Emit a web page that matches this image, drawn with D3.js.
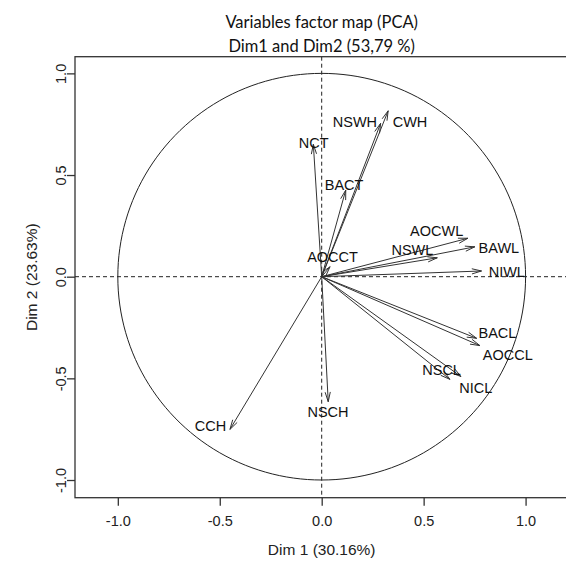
<!DOCTYPE html>
<html>
<head>
<meta charset="utf-8">
<script src="https://cdn.jsdelivr.net/npm/d3@7"></script>
<style>
  html, body { margin: 0; padding: 0; background: #fff; }
  svg { display: block; }
</style>
</head>
<body>
<svg id="chart" width="566" height="563"></svg>
<script>
// ---- data ----
const variables = ["NCT","BACT","AOCCT","NSWH","CWH","AOCWL","BAWL","NSWL","NIWL","BACL","AOCCL","NSCL","NICL","NSCH","CCH"];
const dim1 = [-0.041, 0.118, 0.041, 0.289, 0.326, 0.717, 0.751, 0.567, 0.784, 0.760, 0.776, 0.629, 0.683, 0.032, -0.450];
const dim2 = [0.651, 0.426, 0.049, 0.754, 0.816, 0.189, 0.147, 0.093, 0.028, -0.303, -0.339, -0.505, -0.491, -0.615, -0.751];
// label anchor coordinates (data units)
const labelX = [-0.039, 0.110, 0.053, 0.163, 0.433, 0.564, 0.869, 0.445, 0.908, 0.862, 0.913, 0.588, 0.756, 0.031, -0.545];
const labelY = [0.656, 0.451, 0.098, 0.762, 0.762, 0.225, 0.140, 0.131, 0.023, -0.278, -0.385, -0.460, -0.549, -0.664, -0.734];
const xTicks = [-1.0, -0.5, 0.0, 0.5, 1.0];
const yTicks = [-1.0, -0.5, 0.0, 0.5, 1.0];
const titleLines = ["Variables factor map (PCA)", "Dim1 and Dim2 (53,79 %)"];
const xTitle = "Dim 1 (30.16%)";
const yTitle = "Dim 2 (23.63%)";

// ---- layout ----
const svg = d3.select("#chart");
const pLeft = 75, pRight = 568.4, pTop = 56.7, pBottom = 497.7;
const x = d3.scaleLinear().domain([-1.21, 1.21]).range([pLeft, pRight]);
const y = d3.scaleLinear().domain([-1.087, 1.082]).range([pBottom, pTop]);
const labelFont = "'Liberation Sans', Arial, sans-serif";

// title
svg.append("g").selectAll("text").data(titleLines).join("text")
  .attr("x", x(0)).attr("y", (d, i) => 22 + i * 24)
  .attr("text-anchor", "middle").attr("dominant-baseline", "central")
  .attr("font-family", "Lato, 'Open Sans', sans-serif").attr("font-size", 16.5)
  .attr("fill", "#111").text(d => d);

// box
svg.append("rect").attr("x", pLeft).attr("y", pTop)
  .attr("width", pRight - pLeft).attr("height", pBottom - pTop)
  .attr("fill", "none").attr("stroke", "#333").attr("stroke-width", 1.3);

// axes
const fmt = d => d3.format(".1f")(d).replace("\u2212", "-");
const xAxis = svg.append("g").attr("transform", `translate(0,${pBottom})`)
  .call(d3.axisBottom(x).tickValues(xTicks).tickSize(8).tickSizeOuter(0).tickPadding(10).tickFormat(fmt));
const yAxis = svg.append("g").attr("transform", `translate(${pLeft},0)`)
  .call(d3.axisLeft(y).tickValues(yTicks).tickSize(8).tickSizeOuter(0).tickFormat(fmt));
[xAxis, yAxis].forEach(g => {
  g.select(".domain").remove();
  g.selectAll("line").attr("stroke", "#333").attr("stroke-width", 1.3);
  g.selectAll("text").attr("font-family", labelFont).attr("font-size", 14.5).attr("fill", "#222");
});
yAxis.selectAll("text")
  .attr("x", 0).attr("dy", 0)
  .attr("text-anchor", "middle")
  .attr("transform", "translate(-14,0) rotate(-90)")
  .attr("dominant-baseline", "central");

// axis titles
svg.append("text").attr("x", x(0)).attr("y", 549)
  .attr("text-anchor", "middle").attr("dominant-baseline", "central")
  .attr("font-family", labelFont).attr("font-size", 15.5).attr("fill", "#222").text(xTitle);
svg.append("text")
  .attr("transform", `translate(31,${(pTop + pBottom) / 2}) rotate(-90)`)
  .attr("text-anchor", "middle").attr("dominant-baseline", "central")
  .attr("font-family", labelFont).attr("font-size", 15.5).attr("fill", "#222").text(yTitle);

// clip
svg.append("clipPath").attr("id", "plotclip").append("rect")
  .attr("x", pLeft).attr("y", pTop).attr("width", pRight - pLeft).attr("height", pBottom - pTop);
const plot = svg.append("g").attr("clip-path", "url(#plotclip)");

// dashed reference lines
plot.append("line").attr("x1", x(0)).attr("x2", x(0)).attr("y1", pTop).attr("y2", pBottom)
  .attr("stroke", "#222").attr("stroke-width", 1).attr("stroke-dasharray", "4,3");
plot.append("line").attr("x1", pLeft).attr("x2", pRight).attr("y1", y(0)).attr("y2", y(0))
  .attr("stroke", "#222").attr("stroke-width", 1).attr("stroke-dasharray", "4,3");

// unit circle
const circlePts = d3.range(0, 361, 2).map(a => [Math.cos(a * Math.PI / 180), Math.sin(a * Math.PI / 180)]);
plot.append("path")
  .attr("d", d3.line().x(d => x(d[0])).y(d => y(d[1]))(circlePts))
  .attr("fill", "none").attr("stroke", "#222").attr("stroke-width", 1);

// arrows
const idx = d3.range(variables.length);
const headLen = 10, headAng = 15 * Math.PI / 180;
plot.append("g").selectAll("path").data(idx).join("path")
  .attr("d", i => {
    const x0 = x(0), y0 = y(0), x1 = x(dim1[i]), y1 = y(dim2[i]);
    const ang = Math.atan2(y1 - y0, x1 - x0);
    const ax = x1 - headLen * Math.cos(ang - headAng), ay = y1 - headLen * Math.sin(ang - headAng);
    const bx = x1 - headLen * Math.cos(ang + headAng), by = y1 - headLen * Math.sin(ang + headAng);
    return `M${x0},${y0}L${x1},${y1}M${ax},${ay}L${x1},${y1}L${bx},${by}`;
  })
  .attr("fill", "none").attr("stroke", "#333").attr("stroke-width", 1);

// labels
plot.append("g").selectAll("text").data(idx).join("text")
  .attr("x", i => x(labelX[i])).attr("y", i => y(labelY[i]))
  .attr("text-anchor", "middle").attr("dominant-baseline", "central")
  .attr("font-family", labelFont).attr("font-size", 14.5).attr("fill", "#111")
  .text(i => variables[i]);
</script>
</body>
</html>
